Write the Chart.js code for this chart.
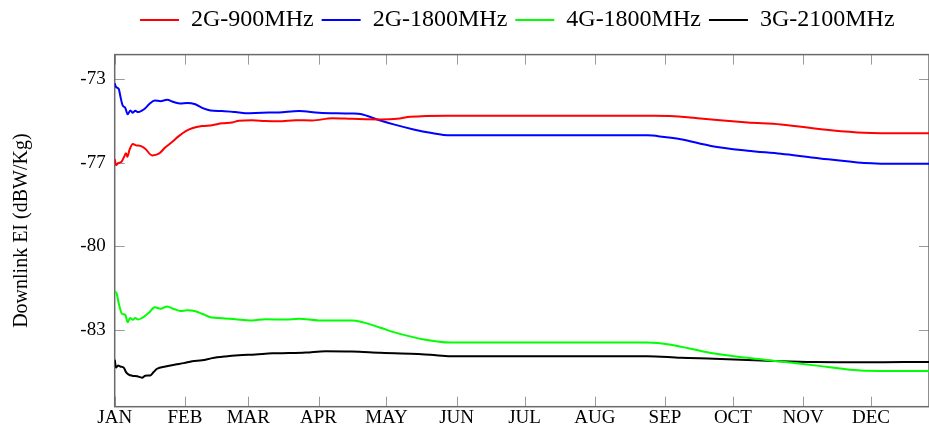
<!DOCTYPE html>
<html>
<head>
<meta charset="utf-8">
<script src="https://cdn.jsdelivr.net/npm/chart.js@4.4.0/dist/chart.umd.min.js"></script>
<style>
html,body{margin:0;padding:0;background:#fff;}
#wrap{width:929px;height:431px;position:relative;}
</style>
</head>
<body>
<div id="wrap"><canvas id="c"></canvas></div>
<script>
// ---- data ----
const monthDays = [0, 31, 59, 90, 120, 151, 181, 212, 243, 273, 304, 334];
const monthLabels = ['JAN','FEB','MAR','APR','MAY','JUN','JUL','AUG','SEP','OCT','NOV','DEC'];
const yTickValues = [-74, -77, -80, -83];
const yTickLabels = ['-73', '-77', '-80', '-83'];
const seriesNames = ['2G-900MHz', '2G-1800MHz', '4G-1800MHz', '3G-2100MHz'];
const seriesColors = ['#ff0000', '#0000ff', '#00ff00', '#000000'];

const redDays = [0,0.6,1.5,2.9,4.0,5.0,5.6,6.5,8.0,9.4,11.3,13.5,16.5,19.5,22.4,25.3,28.3,31.2,34.2,38.6,43.0,47.4,51.9,54.8,60.7,66.6,72.5,79.9,87.2,96.1,104.8,117.3,124.7,130.6,146.8,238.2,252.9,257.4,279.5,294.2,316.3,331.0,348.5,359.6];
const redValues = [-76.88,-77.09,-77.02,-76.98,-76.82,-76.66,-76.79,-76.55,-76.33,-76.38,-76.40,-76.50,-76.74,-76.68,-76.45,-76.26,-76.05,-75.88,-75.77,-75.69,-75.66,-75.59,-75.56,-75.50,-75.48,-75.51,-75.52,-75.48,-75.49,-75.41,-75.43,-75.45,-75.43,-75.36,-75.32,-75.32,-75.37,-75.41,-75.56,-75.63,-75.84,-75.93,-75.95,-75.95];

const blueDays = [0,0.6,1.8,2.5,3.5,4.7,5.7,6.9,8.0,9.1,10.3,12.1,13.5,15.3,17.7,20.2,23.1,26.1,29.0,32.0,35.6,38.6,42.3,47.4,53.3,57.8,65.1,72.5,81.4,90.2,104.8,108.5,117.3,123.2,132.0,139.4,148.3,235.3,242.6,250.0,263.3,279.5,294.2,308.9,331.0,348.5,359.6];
const blueValues = [-74.16,-74.29,-74.36,-74.62,-74.95,-75.04,-75.27,-75.13,-75.21,-75.14,-75.19,-75.13,-75.05,-74.90,-74.77,-74.80,-74.75,-74.83,-74.88,-74.86,-74.91,-75.04,-75.13,-75.15,-75.19,-75.23,-75.21,-75.20,-75.15,-75.21,-75.24,-75.26,-75.49,-75.63,-75.81,-75.93,-76.02,-76.02,-76.08,-76.16,-76.40,-76.57,-76.68,-76.82,-77.01,-77.04,-77.04];

const greenDays = [0,0.9,2.0,3.2,4.7,5.7,6.9,8.0,9.1,10.3,12.1,13.5,15.3,17.7,20.2,23.1,26.1,29.0,32.0,35.6,38.6,42.3,47.4,53.3,60.7,66.6,75.4,81.4,90.2,104.8,117.3,123.2,136.5,148.3,235.3,245.6,263.3,279.5,294.2,308.9,331.0,348.5,359.6];
const greenValues = [-81.61,-81.70,-82.12,-82.41,-82.45,-82.71,-82.56,-82.63,-82.56,-82.62,-82.56,-82.48,-82.36,-82.18,-82.23,-82.15,-82.24,-82.31,-82.29,-82.32,-82.41,-82.54,-82.57,-82.61,-82.65,-82.61,-82.62,-82.59,-82.65,-82.65,-82.91,-83.07,-83.33,-83.44,-83.44,-83.52,-83.82,-83.99,-84.12,-84.26,-84.45,-84.46,-84.46];

const blackDays = [0,0.6,1.5,2.5,4.0,5.0,6.2,7.7,9.9,12.1,13.5,15.7,17.2,18.7,22.4,26.8,30.5,34.2,38.6,43.0,48.9,54.8,62.2,69.6,76.9,84.3,93.1,104.8,117.3,139.4,148.3,235.3,250.0,264.7,294.2,308.9,331.0,348.5,359.6];
const blackValues = [-84.06,-84.34,-84.26,-84.30,-84.34,-84.50,-84.59,-84.63,-84.65,-84.70,-84.63,-84.62,-84.50,-84.38,-84.30,-84.23,-84.18,-84.11,-84.08,-84.00,-83.94,-83.90,-83.87,-83.83,-83.82,-83.80,-83.75,-83.76,-83.81,-83.88,-83.93,-83.93,-83.99,-84.02,-84.11,-84.14,-84.15,-84.14,-84.14];

const xMin = 0, xMax = 359.6;
const yMin = -85.74, yMax = -73.13;

// ---- build ----
const serif = "'Liberation Serif', 'Times New Roman', serif";
const seriesDays = [redDays, blueDays, greenDays, blackDays];
const seriesValues = [redValues, blueValues, greenValues, blackValues];
const datasets = seriesNames.map((name, i) => ({
  label: name,
  data: seriesDays[i].map((d, j) => ({x: d, y: seriesValues[i][j]})),
  borderColor: seriesColors[i],
  backgroundColor: seriesColors[i],
  borderWidth: 2,
  pointRadius: 0,
  cubicInterpolationMode: 'monotone',
  fill: false
}));

const framePlugin = {
  id: 'frame',
  afterLayout(chart) {
    const lg = chart.legend;
    if (lg) { const shift = 52.8; lg.left += shift; lg.right += shift; }
  },
  beforeDatasetsDraw(chart) {
    const {ctx, chartArea: a, scales} = chart;
    ctx.save();
    ctx.strokeStyle = '#9a9a9a';
    ctx.lineWidth = 1;
    const L = 10;
    ctx.beginPath();
    monthDays.forEach(v => {
      const px = Math.round(scales.x.getPixelForValue(v)) + 0.5;
      ctx.moveTo(px, a.bottom); ctx.lineTo(px, a.bottom - L);
      ctx.moveTo(px, a.top); ctx.lineTo(px, a.top + L);
    });
    yTickValues.forEach(v => {
      const py = Math.round(scales.y.getPixelForValue(v)) + 0.5;
      ctx.moveTo(a.left, py); ctx.lineTo(a.left + L, py);
      ctx.moveTo(a.right, py); ctx.lineTo(a.right - L, py);
    });
    ctx.stroke();
    ctx.strokeStyle = '#6a6a6a';
    ctx.lineWidth = 1.5;
    ctx.strokeRect(a.left, a.top, a.right - a.left, a.bottom - a.top);
    ctx.restore();
  }
};

new Chart(document.getElementById('c'), {
  type: 'line',
  data: { datasets },
  options: {
    responsive: true,
    maintainAspectRatio: false,
    animation: false,
    devicePixelRatio: 1,
    layout: { padding: { left: 0, right: 0, top: 0, bottom: 0 } },
    plugins: {
      tooltip: { enabled: false },
      legend: {
        position: 'top',
        align: 'center',
        labels: {
          usePointStyle: true,
          pointStyle: 'line',
          pointStyleWidth: 39,
          padding: 8,
          color: '#000',
          font: { family: serif, size: 24 },
          generateLabels: (chart) => chart.data.datasets.map((d, i) => ({
            text: d.label, strokeStyle: d.borderColor, fillStyle: d.borderColor,
            lineWidth: 2, pointStyle: 'line', hidden: false, datasetIndex: i, fontColor: '#000'
          }))
        }
      }
    },
    scales: {
      x: {
        type: 'linear', min: xMin, max: xMax, position: 'bottom',
        afterBuildTicks: s => { s.ticks = monthDays.map(v => ({ value: v })); },
        afterFit: s => { s.height = 24.3; },
        ticks: {
          autoSkip: false, maxRotation: 0, padding: 0, color: '#000',
          font: { family: serif, size: 19 },
          callback: v => monthLabels[monthDays.indexOf(v)]
        },
        grid: { display: false, drawTicks: false },
        border: { display: false }
      },
      xTop: {
        type: 'linear', position: 'top', display: true,
        afterFit: s => { s.height = 12.6; },
        ticks: { display: false },
        grid: { display: false, drawTicks: false },
        border: { display: false }
      },
      y: {
        type: 'linear', min: yMin, max: yMax,
        afterBuildTicks: s => { s.ticks = yTickValues.map(v => ({ value: v })); },
        afterFit: s => { s.width = 114.7; },
        ticks: {
          padding: 9, color: '#000',
          font: { family: serif, size: 19 },
          callback: v => yTickLabels[yTickValues.indexOf(v)]
        },
        title: {
          display: true, text: 'Downlink EI (dBW/Kg)', color: '#000',
          font: { family: serif, size: 20 },
          padding: { top: 10, bottom: 0 }
        },
        grid: { display: false, drawTicks: false },
        border: { display: false }
      }
    }
  },
  plugins: [framePlugin]
});
</script>
</body>
</html>
